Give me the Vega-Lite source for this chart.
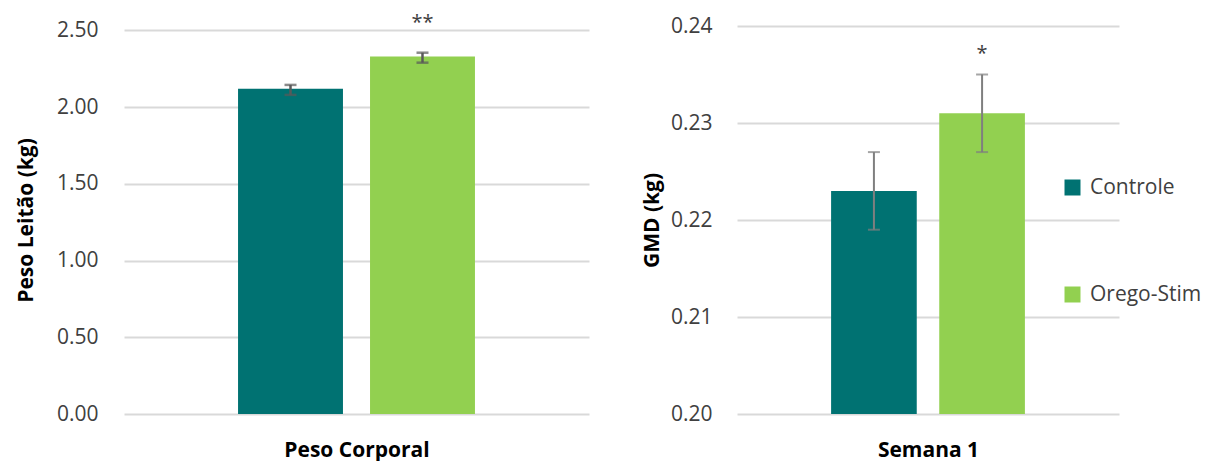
{
  "$schema": "https://vega.github.io/schema/vega-lite/v6.json",
  "background": "white",
  "padding": {"left": 15, "top": 12, "right": 5, "bottom": 5},
  "config": {
    "font": "Open Sans",
    "view": {"stroke": null},
    "axis": {"labelFont": "Open Sans", "titleFont": "Open Sans"}
  },
  "spacing": 148,
  "bounds": "flush",
  "resolve": {"legend": {"color": "independent"}},
  "hconcat": [
    {
      "width": 465,
      "height": 388,
      "layer": [
        {
          "data": {"values": [
            {"serie": "Controle", "valor": 2.12},
            {"serie": "Orego-Stim", "valor": 2.33}
          ]},
          "mark": {"type": "bar", "clip": true},
          "encoding": {
            "x": {"field": "serie", "type": "nominal", "sort": ["Controle", "Orego-Stim"],
              "scale": {"paddingInner": 0.205, "paddingOuter": 0.864},
              "axis": {"labels": false, "ticks": false, "domain": false, "title": "Peso Corporal",
                "titleFontSize": 21, "titleFontWeight": "bold", "titleColor": "#000000", "titlePadding": 25}},
            "y": {"field": "valor", "type": "quantitative",
              "scale": {"domain": [0, 2.529], "nice": false, "zero": true},
              "axis": {"values": [0, 0.5, 1, 1.5, 2, 2.5], "format": ".2f", "title": "Peso Leitão (kg)",
                "titleFontSize": 21, "titleFontWeight": "bold", "titleColor": "#000000", "titlePadding": 20,
                "labelFontSize": 21, "labelColor": "#404040", "labelPadding": 26,
                "domain": false, "ticks": false, "grid": true, "gridColor": "#d9d9d9", "gridWidth": 2}},
            "color": {"field": "serie", "type": "nominal",
              "scale": {"domain": ["Controle", "Orego-Stim"], "range": ["#007272", "#92D050"]},
              "legend": null}
          }
        },
        {
          "data": {"values": [
            {"serie": "Controle", "lo": 2.08, "hi": 2.145},
            {"serie": "Orego-Stim", "lo": 2.29, "hi": 2.355}
          ]},
          "layer": [
            {"mark": {"type": "rule", "color": "#595959", "strokeWidth": 2.5},
             "encoding": {"x": {"field": "serie", "type": "nominal"}, "y": {"field": "lo", "type": "quantitative"}, "y2": {"field": "hi"}}},
            {"mark": {"type": "tick", "orient": "horizontal", "size": 12, "thickness": 2.5, "color": "#595959"},
             "encoding": {"x": {"field": "serie", "type": "nominal"}, "y": {"field": "lo", "type": "quantitative"}}},
            {"mark": {"type": "tick", "orient": "horizontal", "size": 12, "thickness": 2.5, "color": "#595959"},
             "encoding": {"x": {"field": "serie", "type": "nominal"}, "y": {"field": "hi", "type": "quantitative"}}}
          ]
        },
        {
          "data": {"values": [{"serie": "Orego-Stim", "valor": 2.51, "marca": "**"}]},
          "mark": {"type": "text", "fontSize": 20, "color": "#404040", "baseline": "alphabetic", "align": "center"},
          "encoding": {
            "x": {"field": "serie", "type": "nominal"},
            "y": {"field": "valor", "type": "quantitative"},
            "text": {"field": "marca"}
          }
        }
      ]
    },
    {
      "width": 382,
      "height": 388,
      "layer": [
        {
          "data": {"values": [
            {"serie": "Controle", "valor": 0.223},
            {"serie": "Orego-Stim", "valor": 0.231}
          ]},
          "mark": {"type": "bar", "clip": true},
          "encoding": {
            "x": {"field": "serie", "type": "nominal", "sort": ["Controle", "Orego-Stim"],
              "scale": {"paddingInner": 0.208, "paddingOuter": 0.87},
              "axis": {"labels": false, "ticks": false, "domain": false, "title": "Semana 1",
                "titleFontSize": 21, "titleFontWeight": "bold", "titleColor": "#000000", "titlePadding": 25}},
            "y": {"field": "valor", "type": "quantitative",
              "scale": {"domain": [0.2, 0.24], "nice": false, "zero": false},
              "axis": {"values": [0.2, 0.21, 0.22, 0.23, 0.24], "format": ".2f", "title": "GMD (kg)",
                "titleFontSize": 21, "titleFontWeight": "bold", "titleColor": "#000000", "titlePadding": 8,
                "labelFontSize": 21, "labelColor": "#404040", "labelPadding": 25,
                "domain": false, "ticks": false, "grid": true, "gridColor": "#d9d9d9", "gridWidth": 2}},
            "color": {"field": "serie", "type": "nominal",
              "scale": {"domain": ["Controle", "Orego-Stim"], "range": ["#007272", "#92D050"]},
              "legend": {"title": null, "orient": "none", "legendX": 325, "legendY": 151,
                "symbolType": "square", "symbolSize": 256, "symbolStrokeWidth": 0,
                "labelFontSize": 21, "labelColor": "#404040", "labelOffset": 7, "rowPadding": 85,
                "labelFont": "Open Sans", "labelLimit": 300}}
          }
        },
        {
          "data": {"values": [
            {"serie": "Controle", "lo": 0.219, "hi": 0.227},
            {"serie": "Orego-Stim", "lo": 0.227, "hi": 0.235}
          ]},
          "layer": [
            {"mark": {"type": "rule", "color": "#7f7f7f", "strokeWidth": 2},
             "encoding": {"x": {"field": "serie", "type": "nominal"}, "y": {"field": "lo", "type": "quantitative"}, "y2": {"field": "hi"}}},
            {"mark": {"type": "tick", "orient": "horizontal", "size": 12, "thickness": 2, "color": "#7f7f7f"},
             "encoding": {"x": {"field": "serie", "type": "nominal"}, "y": {"field": "lo", "type": "quantitative"}}},
            {"mark": {"type": "tick", "orient": "horizontal", "size": 12, "thickness": 2, "color": "#7f7f7f"},
             "encoding": {"x": {"field": "serie", "type": "nominal"}, "y": {"field": "hi", "type": "quantitative"}}}
          ]
        },
        {
          "data": {"values": [{"serie": "Orego-Stim", "valor": 0.2365, "marca": "*"}]},
          "mark": {"type": "text", "fontSize": 20, "color": "#404040", "baseline": "alphabetic", "align": "center"},
          "encoding": {
            "x": {"field": "serie", "type": "nominal"},
            "y": {"field": "valor", "type": "quantitative"},
            "text": {"field": "marca"}
          }
        }
      ]
    }
  ]
}
